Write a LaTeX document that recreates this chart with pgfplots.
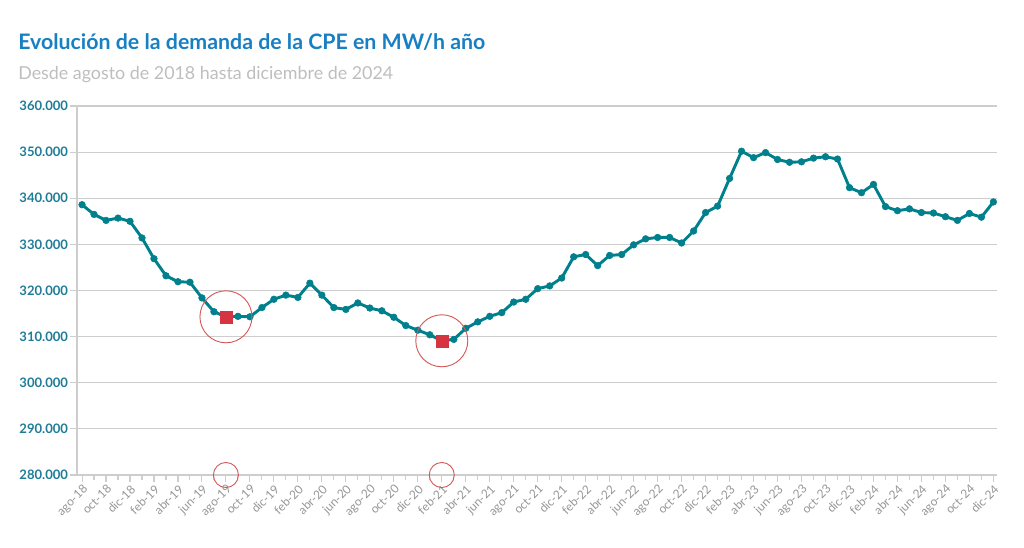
\documentclass[border=0pt]{standalone}
\usepackage{fontspec}
\setmainfont{Lato}
\usepackage{pgfplots}
\pgfplotsset{compat=1.18}
\definecolor{linecol}{RGB}{0,128,140}
\definecolor{titlecol}{RGB}{24,128,194}
\definecolor{ylabcol}{RGB}{30,124,152}
\definecolor{subcol}{RGB}{190,190,190}
\definecolor{xlabcol}{RGB}{150,150,150}
\definecolor{gridcol}{RGB}{205,205,205}
\definecolor{sqcol}{RGB}{214,52,64}
\definecolor{circcol}{RGB}{212,90,90}
\begin{document}
\begin{tikzpicture}
\useasboundingbox (-57.75pt,-54pt) rectangle (710.25pt,356.25pt);
\node[anchor=base west, inner sep=0pt, text=titlecol, font=\bfseries\fontsize{16}{19}\selectfont] at (-44.25pt,319.3pt) {Evolución de la demanda de la CPE en MW/h año};
\node[anchor=base west, inner sep=0pt, text=subcol, font=\fontsize{13.4}{16}\selectfont] at (-44.25pt,296.25pt) {Desde agosto de 2018 hasta diciembre de 2024};
\begin{axis}[
  at={(0,0)}, anchor=south west,
  scale only axis, width=690pt, height=276.75pt,
  xmin=-0.42, xmax=76.3, ymin=280000, ymax=360000,
  axis x line*=bottom, axis y line*=left,
  axis line style={-, draw=gridcol, line width=0.8pt},
  ymajorgrids, grid style={draw=gridcol, line width=0.8pt},
  ytick={280000,290000,300000,310000,320000,330000,340000,350000,360000},
  yticklabels={280.000,290.000,300.000,310.000,320.000,330.000,340.000,350.000,360.000},
  scaled y ticks=false,
  yticklabel style={font=\bfseries\fontsize{9.8}{10}\selectfont, text=ylabcol, inner sep=1.5pt},
  xtick={0,2,...,76},
  minor xtick={1,3,...,75},
  xticklabels={ago-18,oct-18,dic-18,
    feb-19,abr-19,jun-19,ago-19,oct-19,dic-19,
    feb-20,abr-20,jun-20,ago-20,oct-20,dic-20,
    feb-21,abr-21,jun-21,ago-21,oct-21,dic-21,
    feb-22,abr-22,jun-22,ago-22,oct-22,dic-22,
    feb-23,abr-23,jun-23,ago-23,oct-23,dic-23,
    feb-24,abr-24,jun-24,ago-24,oct-24,dic-24},
  xticklabel style={rotate=45, anchor=north east, font=\fontsize{9}{9}\selectfont, text=xlabcol, inner sep=1pt},
  tick align=outside,
  major tick length=5pt, minor tick length=4pt,
  tick style={draw=gridcol, line width=0.8pt},
  clip=false,
]
\addplot[linecol, line width=2.2pt, mark=*, mark size=2.5pt, mark options={solid, fill=linecol, draw=linecol, line width=0.4pt}] coordinates {
(0,338600) (1,336500) (2,335200) (3,335700) (4,335000) (5,331400) (6,326900) (7,323200)
(8,321900) (9,321800) (10,318400) (11,315400) (12,314300) (13,314400) (14,314300) (15,316300)
(16,318100) (17,319000) (18,318500) (19,321600) (20,319000) (21,316300) (22,315900) (23,317300)
(24,316200) (25,315600) (26,314200) (27,312400) (28,311400) (29,310400) (30,309100) (31,309400)
(32,311800) (33,313200) (34,314400) (35,315200) (36,317500) (37,318100) (38,320400) (39,321000)
(40,322700) (41,327300) (42,327800) (43,325400) (44,327600) (45,327800) (46,329900) (47,331200)
(48,331500) (49,331500) (50,330300) (51,332900) (52,336900) (53,338300) (54,344300) (55,350200)
(56,348800) (57,349900) (58,348400) (59,347800) (60,347900) (61,348700) (62,349000) (63,348500)
(64,342300) (65,341200) (66,343000) (67,338200) (68,337300) (69,337700) (70,336900) (71,336800)
(72,336000) (73,335200) (74,336700) (75,335900) (76,339200)
};
\addplot[only marks, mark=square*, mark size=4.4pt, mark options={solid, fill=sqcol, draw=sqcol, line width=0.2pt}] coordinates {(12,314300) (30,309100)};
\addplot[only marks, mark=o, mark size=19.5pt, mark options={solid, draw=circcol, line width=0.7pt}] coordinates {(12,314300) (30,309100)};
\addplot[only marks, mark=o, mark size=9.4pt, mark options={solid, draw=circcol, line width=0.7pt}] coordinates {(12,280000) (30,280000)};
\end{axis}
\end{tikzpicture}
\end{document}
